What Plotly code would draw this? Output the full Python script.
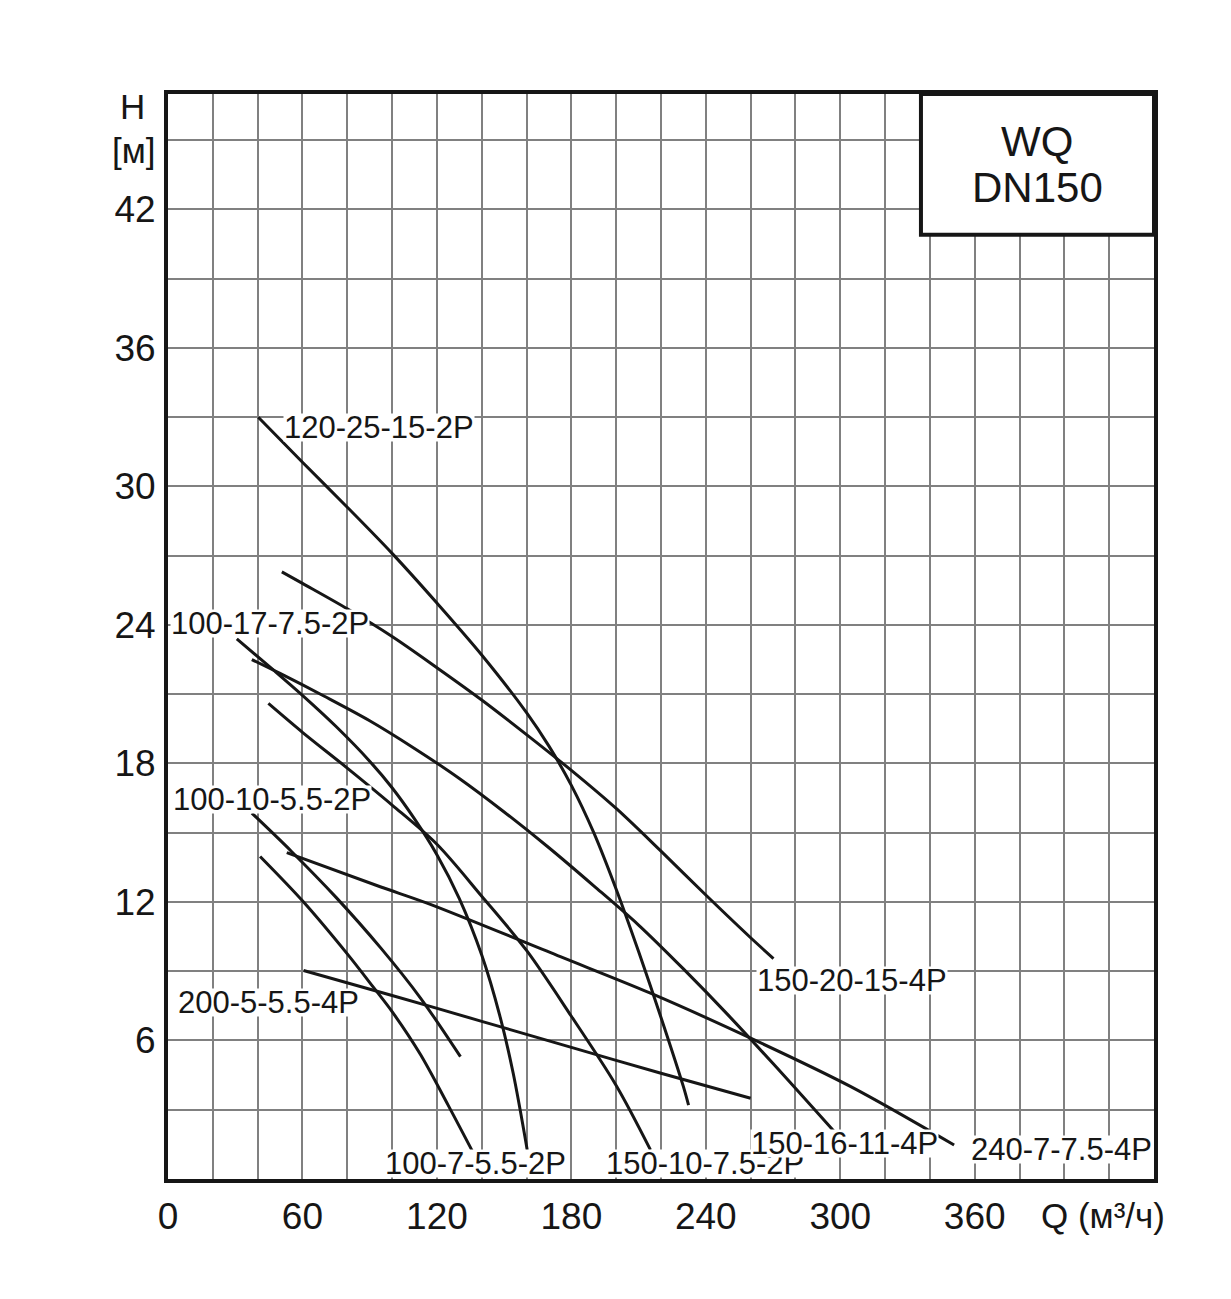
import plotly.graph_objects as go

FONT = "Liberation Sans, Arial, Helvetica, sans-serif"
INK = "#161616"
GRID = "#808080"

# ---- data (Q in m3/h, H in m) ----
curve_names = ["120-25-15-2P", "150-20-15-4P", "100-17-7.5-2P", "150-10-7.5-2P",
               "150-16-11-4P", "100-10-5.5-2P", "100-7-5.5-2P", "200-5-5.5-4P",
               "240-7-7.5-4P"]

q_120_25 = [40.3, 60, 80, 100, 120, 140, 160, 170, 180, 190, 200, 210, 220, 230, 232.3]
h_120_25 = [33.0, 31.05, 29.1, 27.1, 24.95, 22.7, 20.2, 18.75, 17.05, 15.0, 12.55, 9.85, 7.0, 4.0, 3.2]

q_150_20 = [50.8, 60, 80, 100, 120, 140, 160, 180, 200, 220, 240, 260, 270.2]
h_150_20 = [26.3, 25.8, 24.7, 23.5, 22.15, 20.75, 19.25, 17.7, 16.05, 14.2, 12.3, 10.45, 9.55]

q_100_17 = [30.7, 47, 60, 75, 90, 100, 110, 120, 130, 140, 148, 154, 160.3]
h_100_17 = [23.4, 22.05, 20.95, 19.6, 18.1, 16.95, 15.6, 14.05, 12.15, 9.7, 7.1, 4.6, 1.26]

q_150_10 = [44.8, 60, 80, 100, 120, 140, 160, 180, 200, 215.3]
h_150_10 = [20.6, 19.35, 17.8, 16.2, 14.5, 12.25, 9.9, 7.05, 4.05, 1.26]

q_150_16 = [37.4, 50, 70, 90, 110, 130, 150, 170, 190, 210, 230, 250, 270, 298]
h_150_16 = [22.5, 21.9, 20.9, 19.85, 18.65, 17.35, 15.9, 14.35, 12.7, 11.0, 9.1, 7.1, 5.0, 1.98]

q_100_10 = [37.4, 55, 75, 95, 112.6, 130.5]
h_100_10 = [15.85, 14.2, 12.2, 10.0, 7.85, 5.3]

q_100_7 = [41.1, 60, 80, 91.7, 100, 112.6, 125, 136.4]
h_100_7 = [13.97, 12.05, 9.75, 8.3, 7.25, 5.4, 3.2, 1.1]

q_200_5 = [60.5, 100, 140, 180, 220, 260]
h_200_5 = [9.03, 7.95, 6.83, 5.7, 4.58, 3.5]

q_240_7 = [53.0, 94.7, 115.6, 175.1, 215.3, 260.0, 304.7, 350.8]
h_240_7 = [14.14, 12.66, 11.95, 9.63, 8.05, 6.1, 4.0, 1.47]

curves_q = [q_120_25, q_150_20, q_100_17, q_150_10, q_150_16, q_100_10, q_100_7, q_200_5, q_240_7]
curves_h = [h_120_25, h_150_20, h_100_17, h_150_10, h_150_16, h_100_10, h_100_7, h_200_5, h_240_7]

# label anchor (left edge, vertical centre) in data units
label_q = [51.4, 262.3, 0.8, 195.0, 259.5, 1.8, 96.5, 3.8, 358.0]
label_h = [32.55, 8.62, 24.08, 0.65, 1.55, 16.45, 0.65, 7.66, 1.26]

x_ticks = [0, 60, 120, 180, 240, 300, 360]
y_ticks = [6, 12, 18, 24, 30, 36, 42]

fig = go.Figure()
for q, h, n in zip(curves_q, curves_h, curve_names):
    fig.add_trace(go.Scatter(x=q, y=h, mode="lines", name=n,
                             line=dict(color=INK, width=3, shape="spline", smoothing=0.9),
                             showlegend=False, hoverinfo="skip"))

for n, lq, lh in zip(curve_names, label_q, label_h):
    fig.add_annotation(x=lq, y=lh, text=n, showarrow=False, xanchor="left", yanchor="middle",
                       font=dict(family=FONT, size=31, color=INK), bgcolor="white",
                       borderpad=0, height=27, valign="middle")

# title box
fig.add_shape(type="rect", x0=336, x1=440, y0=40.9, y1=47, xref="x", yref="y",
              line=dict(color=INK, width=4), fillcolor="white", layer="above")
fig.add_annotation(x=388, y=44.93, text="WQ", showarrow=False, xref="x", yref="y",
                   xanchor="center", yanchor="middle",
                   font=dict(family=FONT, size=42, color=INK))
fig.add_annotation(x=388, y=42.94, text="DN150", showarrow=False, xref="x", yref="y",
                   xanchor="center", yanchor="middle",
                   font=dict(family=FONT, size=42, color=INK))

# axis titles (paper coordinates, outside the plot area)
fig.add_annotation(x=-0.0355, y=0.9889, xref="paper", yref="paper", text="H", showarrow=False,
                   xanchor="center", yanchor="middle",
                   font=dict(family=FONT, size=35, color=INK))
fig.add_annotation(x=-0.0345, y=0.9475, xref="paper", yref="paper", text="[м]", showarrow=False,
                   xanchor="center", yanchor="middle",
                   font=dict(family=FONT, size=35, color=INK))
fig.add_annotation(x=0.948, y=-0.0332, xref="paper", yref="paper", text="Q (м³/ч)", showarrow=False,
                   xanchor="center", yanchor="middle",
                   font=dict(family=FONT, size=35, color=INK))

fig.update_layout(
    width=1231, height=1299, autosize=False,
    margin=dict(l=168, r=77, t=94, b=120),
    paper_bgcolor="white", plot_bgcolor="white",
    font=dict(family=FONT, color=INK),
    xaxis=dict(range=[0, 440], tickmode="array", tickvals=x_ticks, ticktext=[str(v) for v in x_ticks],
               showgrid=True, gridcolor=GRID, gridwidth=2,
               minor=dict(dtick=20, tick0=0, showgrid=True, gridcolor=GRID, gridwidth=2),
               showline=True, linecolor=INK, linewidth=4, mirror=True, zeroline=False,
               ticks="", tickfont=dict(family=FONT, size=37, color=INK), ticklabelstandoff=2),
    yaxis=dict(range=[0, 47], tickmode="array", tickvals=y_ticks, ticktext=[str(v) for v in y_ticks],
               showgrid=True, gridcolor=GRID, gridwidth=2,
               minor=dict(dtick=3, tick0=0, showgrid=True, gridcolor=GRID, gridwidth=2),
               showline=True, linecolor=INK, linewidth=4, mirror=True, zeroline=False,
               ticks="", tickfont=dict(family=FONT, size=37, color=INK), ticklabelstandoff=1),
)

fig.write_html("out.html")
